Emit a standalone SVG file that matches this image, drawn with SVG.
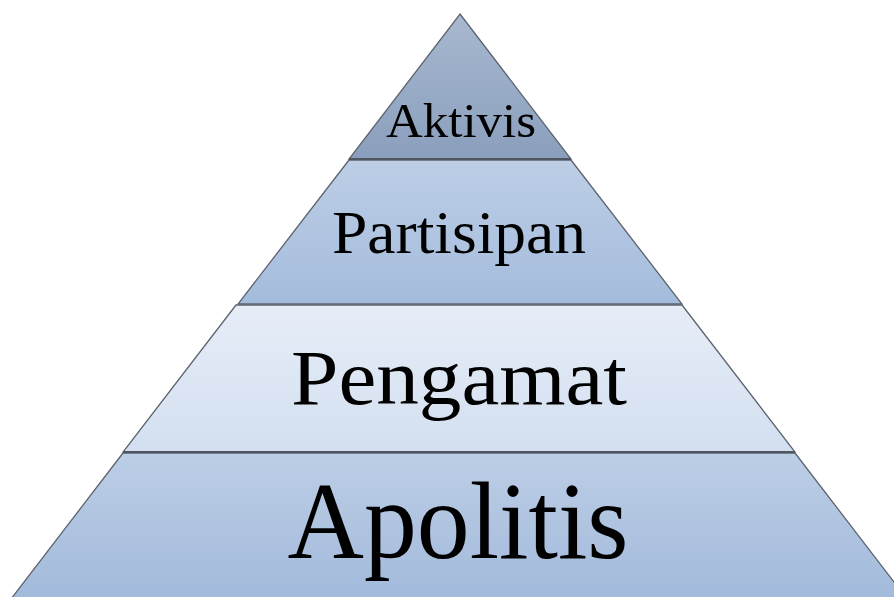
<svg xmlns="http://www.w3.org/2000/svg" width="894" height="597" viewBox="0 0 894 597">
  <defs>
    <linearGradient id="g1" x1="0" y1="0" x2="0" y2="1">
      <stop offset="0" stop-color="#a8b8cf"/>
      <stop offset="1" stop-color="#8a9fbd"/>
    </linearGradient>
    <linearGradient id="g2" x1="0" y1="0" x2="0" y2="1">
      <stop offset="0" stop-color="#bdcee6"/>
      <stop offset="1" stop-color="#a4bcdc"/>
    </linearGradient>
    <linearGradient id="g3" x1="0" y1="0" x2="0" y2="1">
      <stop offset="0" stop-color="#e6edf7"/>
      <stop offset="1" stop-color="#d3dff0"/>
    </linearGradient>
    <linearGradient id="g4" x1="0" y1="0" x2="0" y2="1">
      <stop offset="0" stop-color="#bdcee6"/>
      <stop offset="1" stop-color="#a2badb"/>
    </linearGradient>
  </defs>
  <style>
    .layer { stroke: #5c636d; stroke-width: 1.3; stroke-linejoin: miter; }
    .sep { stroke: #4f5660; stroke-width: 2.2; }
    .lbl { font-family: "Liberation Serif", "Times New Roman", serif; fill: #000; text-anchor: middle; }
  </style>
  <rect width="894" height="597" fill="#ffffff"/>
  <g id="apolitis">
    <polygon class="layer" fill="url(#g4)" points="123,453 795,453 907,599 11,599"/>
    <text class="lbl" x="458" y="558" font-size="110" textLength="341" lengthAdjust="spacingAndGlyphs">Apolitis</text>
  </g>
  <g id="pengamat">
    <polygon class="layer" fill="url(#g3)" points="236,305 682,305 795,452 123,452"/>
    <line class="sep" x1="123" y1="452" x2="795" y2="452"/>
    <text class="lbl" x="459" y="404" font-size="78" textLength="336" lengthAdjust="spacingAndGlyphs">Pengamat</text>
  </g>
  <g id="partisipan">
    <polygon class="layer" fill="url(#g2)" points="349,160 571,160 682,304 238,304"/>
    <text class="lbl" x="459" y="253" font-size="62" textLength="254" lengthAdjust="spacingAndGlyphs">Partisipan</text>
  </g>
  <g id="aktivis">
    <polygon class="layer" fill="url(#g1)" points="460,14 571,159 349,159"/>
    <line class="sep" x1="349" y1="159" x2="571" y2="159" stroke-width="1.6"/>
    <text class="lbl" x="461" y="137" font-size="48" textLength="150" lengthAdjust="spacingAndGlyphs">Aktivis</text>
  </g>
</svg>
